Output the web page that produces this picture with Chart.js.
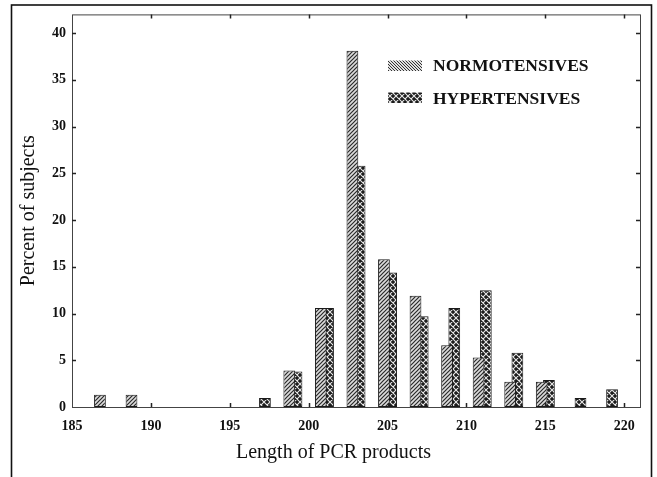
<!DOCTYPE html>
<html><head><meta charset="utf-8">
<script src="https://cdn.jsdelivr.net/npm/chart.js@4.4.1/dist/chart.umd.min.js"></script>
<style>html,body{margin:0;padding:0;background:#fff;}</style>
</head><body>
<canvas id="c" width="657" height="477"></canvas>
<script>
// ---- data ----
const categories    = [187, 189, 197, 199, 201, 203, 205, 207, 209, 211, 213, 215, 217, 219];
const normotensives = [1.3, 1.3, null, 3.9, 10.6, 38.1, 15.8, 11.9, 6.6, 5.3, 2.7, 2.7, null, null];
const hypertensives = [null, null, 0.95, 3.8, 10.6, 25.8, 14.4, 9.7, 10.6, 12.5, 5.8, 2.9, 0.95, 1.9];
const xTicks = [185, 190, 195, 200, 205, 210, 215, 220];
const yTicks = [0, 5, 10, 15, 20, 25, 30, 35, 40];
const seriesLabels = ['NORMOTENSIVES', 'HYPERTENSIVES'];
const xTitle = 'Length of PCR products';
const yTitle = 'Percent of subjects';

const SERIF = '"Liberation Serif", "Times New Roman", serif';

function stripePattern(dir, size, bg, fg, lw) {
  const c = document.createElement('canvas'); c.width = size; c.height = size;
  const g = c.getContext('2d');
  g.fillStyle = bg; g.fillRect(0, 0, size, size);
  g.strokeStyle = fg; g.lineWidth = lw; g.beginPath();
  for (let k = -1; k <= 1; k++) {
    if (dir > 0) { g.moveTo(k * size - 1, size + 1); g.lineTo(k * size + size + 1, -1); }
    else { g.moveTo(k * size - 1, -1); g.lineTo(k * size + size + 1, size + 1); }
  }
  g.stroke();
  return g.createPattern(c, 'repeat');
}
function latticePattern(size) {
  const c = document.createElement('canvas'); c.width = size; c.height = size;
  const g = c.getContext('2d');
  g.fillStyle = '#1c1c1c'; g.fillRect(0, 0, size, size);
  g.strokeStyle = '#e8e8e8'; g.lineWidth = 1.1; g.beginPath();
  for (let k = -1; k <= 1; k++) {
    g.moveTo(k * size - 1, size + 1); g.lineTo(k * size + size + 1, -1);
    g.moveTo(k * size - 1, -1); g.lineTo(k * size + size + 1, size + 1);
  }
  g.stroke();
  return g.createPattern(c, 'repeat');
}
const normoFill = stripePattern(1, 4, '#dcdcdc', '#2a2a2a', 1.2);
const normoLegendFill = stripePattern(-1, 3, '#e0e0e0', '#333', 1);
const hyperFill = latticePattern(6);

const decorPlugin = {
  id: 'decor',
  beforeDraw(chart) {
    const ctx = chart.ctx;
    ctx.save();
    ctx.fillStyle = '#fff'; ctx.fillRect(0, 0, chart.width, chart.height);
    ctx.strokeStyle = '#111'; ctx.lineWidth = 1.6;
    ctx.strokeRect(11.5, 5, 640, 500);
    ctx.restore();
  },
  afterDatasetsDraw(chart) {
    const ctx = chart.ctx, a = chart.chartArea;
    const xs = chart.scales.x, ys = chart.scales.y;
    ctx.save();
    // plot frame
    ctx.strokeStyle = '#444'; ctx.lineWidth = 1;
    ctx.strokeRect(a.left + 0.5, a.top + 0.5, a.right - a.left, a.bottom - a.top);
    // inward tick marks on all four sides
    ctx.strokeStyle = '#222'; ctx.lineWidth = 1.5; ctx.beginPath();
    xs.ticks.forEach(t => {
      const p = Math.round(xs.getPixelForValue(t.value)) + 0.5;
      if (p <= a.left + 2 || p >= a.right - 2) return;
      ctx.moveTo(p, a.bottom); ctx.lineTo(p, a.bottom - 4);
      ctx.moveTo(p, a.top); ctx.lineTo(p, a.top + 4);
    });
    ys.ticks.forEach(t => {
      const p = Math.round(ys.getPixelForValue(t.value)) + 0.5;
      if (p >= a.bottom - 2 || p <= a.top + 2) return;
      ctx.moveTo(a.left, p); ctx.lineTo(a.left + 4, p);
      ctx.moveTo(a.right, p); ctx.lineTo(a.right - 4, p);
    });
    ctx.stroke();
    // legend inside the plot
    const fills = [normoLegendFill, hyperFill];
    const rows = [{ y: 60.5, base: 70.5 }, { y: 92.5, base: 104 }];
    chart.data.datasets.forEach((ds, i) => {
      const r = rows[i];
      ctx.fillStyle = fills[i];
      ctx.fillRect(388, r.y, 34, 10.5);
      ctx.fillStyle = '#111';
      ctx.font = 'bold 17.5px ' + SERIF;
      ctx.textAlign = 'left'; ctx.textBaseline = 'alphabetic';
      ctx.fillText(ds.label, 433, r.base);
    });
    ctx.restore();
  }
};

new Chart(document.getElementById('c'), {
  type: 'bar',
  data: {
    datasets: [
      {
        label: seriesLabels[0],
        data: categories.map((x, i) => ({ x: x, y: normotensives[i] })),
        backgroundColor: normoFill,
        borderColor: '#1a1a1a', borderWidth: 1, borderSkipped: false
      },
      {
        label: seriesLabels[1],
        data: categories.map((x, i) => ({ x: x, y: hypertensives[i] })),
        backgroundColor: hyperFill,
        borderColor: '#1a1a1a', borderWidth: 1, borderSkipped: false
      }
    ]
  },
  options: {
    responsive: false,
    animation: false,
    devicePixelRatio: 1,
    categoryPercentage: 0.457,
    barPercentage: 1.63,
    layout: { padding: { left: 12, top: 11, right: 17, bottom: 0 } },
    plugins: { legend: { display: false }, tooltip: { enabled: false }, title: { display: false } },
    scales: {
      x: {
        type: 'linear', min: 185, max: 221, offset: false,
        afterBuildTicks: s => { s.ticks = xTicks.map(v => ({ value: v })); },
        afterFit: s => { s.height = 70; },
        grid: { display: false, drawTicks: false, offset: false },
        border: { display: false },
        ticks: { padding: 11, color: '#111', font: { family: SERIF, size: 14, weight: 'bold' }, maxRotation: 0, autoSkip: false },
        title: { display: true, text: xTitle + '         ', color: '#111', font: { family: SERIF, size: 20 }, padding: { top: 0, bottom: 12 } }
      },
      y: {
        min: 0, max: 42,
        afterBuildTicks: s => { s.ticks = yTicks.map(v => ({ value: v })); },
        afterFit: s => { s.width = 60; },
        grid: { display: false, drawTicks: false },
        border: { display: false },
        ticks: { padding: 6, color: '#111', font: { family: SERIF, size: 14, weight: 'bold' } },
        title: { display: true, text: yTitle, color: '#111', font: { family: SERIF, size: 20 }, padding: { top: 5, bottom: 0 } }
      }
    }
  },
  plugins: [decorPlugin]
});
</script>
</body></html>
